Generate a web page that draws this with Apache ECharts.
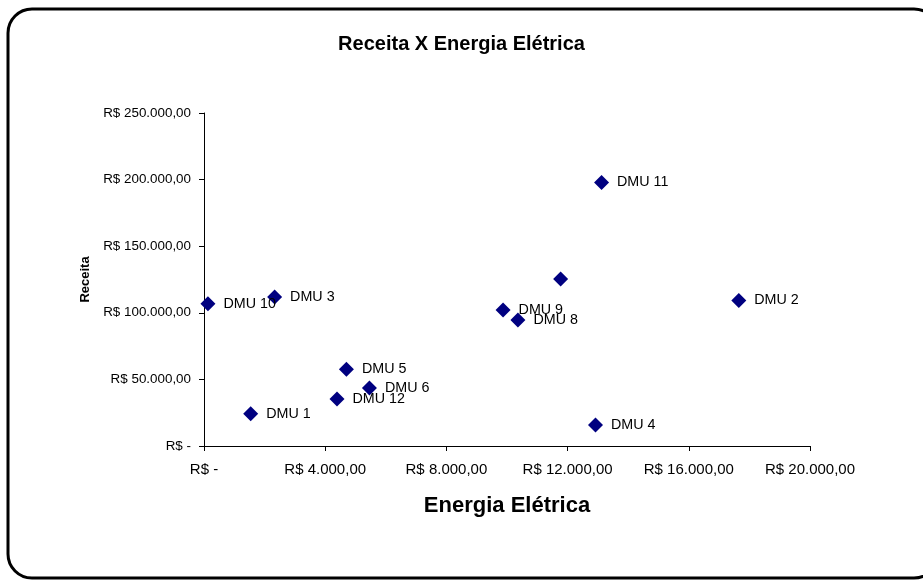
<!DOCTYPE html>
<html>
<head>
<meta charset="utf-8">
<script src="https://cdn.jsdelivr.net/npm/echarts@6/dist/echarts.min.js"></script>
<style>
  html, body { margin: 0; padding: 0; background: #fff; }
  #chart { width: 923px; height: 582px; }
</style>
</head>
<body>
<div id="chart"></div>
<script>
// DMU names, electricity expense (R$) and revenue (R$)
const dmuNames = ['DMU 10', 'DMU 3', 'DMU 1', 'DMU 5', 'DMU 6', 'DMU 12', 'DMU 9', 'DMU 8', '', 'DMU 11', 'DMU 2', 'DMU 4'];
const energia = [130, 2330, 1540, 4700, 5460, 4390, 9870, 10360, 11770, 13120, 17650, 12920];
const receita = [106800, 111900, 24300, 57700, 43500, 35300, 102100, 94600, 125400, 197800, 109300, 15800];

const xTicks = [0, 4000, 8000, 12000, 16000, 20000];
const yTicks = [0, 50000, 100000, 150000, 200000, 250000];

function brl(v) {
  if (v === 0) return 'R$ -';
  const s = Math.round(v).toString().replace(/\B(?=(\d{3})+(?!\d))/g, '.');
  return 'R$ ' + s + ',00';
}

const points = energia.map((x, i) => ({ value: [x, receita[i]], name: dmuNames[i] }));

const FONT = 'Liberation Sans, Arial, sans-serif';

const chart = echarts.init(document.getElementById('chart'));
chart.setOption({
  animation: false,
  backgroundColor: '#fff',
  textStyle: { fontFamily: FONT },
  title: {
    text: 'Receita X Energia Elétrica',
    left: 'center',
    top: 29,
    textStyle: { fontSize: 20, fontWeight: 'bold', color: '#000', fontFamily: FONT }
  },
  graphic: [{
    type: 'rect',
    shape: { x: 8, y: 9, width: 930, height: 569, r: 24 },
    style: { fill: 'none', stroke: '#000', lineWidth: 3 },
    silent: true,
    z: 100
  }],
  grid: { left: 204, right: 113, top: 113, bottom: 136 },
  xAxis: {
    type: 'value',
    min: xTicks[0],
    max: xTicks[xTicks.length - 1],
    interval: 4000,
    name: 'Energia Elétrica',
    nameLocation: 'middle',
    nameGap: 49,
    nameTextStyle: { fontSize: 22, fontWeight: 'bold', color: '#000' },
    axisLine: { lineStyle: { color: '#000', width: 1 } },
    axisTick: { show: true, length: 5, lineStyle: { color: '#000' } },
    splitLine: { show: false },
    axisLabel: { color: '#000', fontSize: 15, margin: 16, formatter: brl }
  },
  yAxis: {
    type: 'value',
    min: yTicks[0],
    max: yTicks[yTicks.length - 1],
    interval: 50000,
    name: 'Receita',
    nameLocation: 'middle',
    nameGap: 111,
    nameRotate: 90,
    nameTextStyle: { fontSize: 13, fontWeight: 'bold', color: '#000' },
    axisLine: { show: true, lineStyle: { color: '#000', width: 1 } },
    axisTick: { show: true, length: 5, lineStyle: { color: '#000' } },
    splitLine: { show: false },
    axisLabel: { color: '#000', fontSize: 13.4, margin: 13, formatter: brl }
  },
  series: [{
    type: 'scatter',
    symbol: 'diamond',
    symbolSize: 15,
    itemStyle: { color: '#000080', opacity: 1 },
    data: points,
    label: {
      show: true,
      position: 'right',
      distance: 8,
      color: '#000',
      fontSize: 14.3,
      formatter: p => p.name
    }
  }]
});
</script>
</body>
</html>
